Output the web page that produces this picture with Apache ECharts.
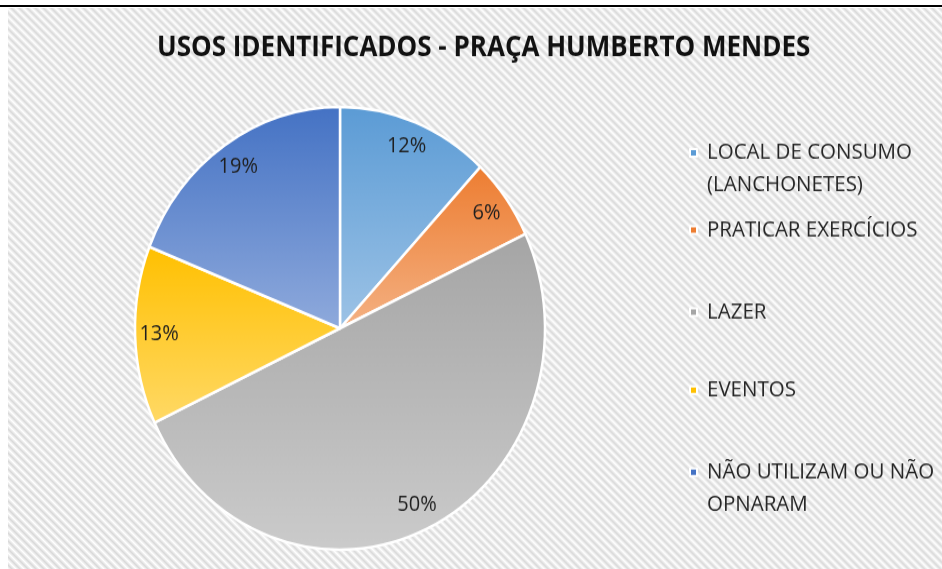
<!DOCTYPE html>
<html>
<head>
<meta charset="utf-8">
<script src="https://cdn.jsdelivr.net/npm/echarts@6/dist/echarts.min.js"></script>
<style>
  body { margin: 0; background: #fff; }
  #wrap { position: relative; width: 942px; height: 569px; overflow: hidden; background: #fff; }
  #rule { position: absolute; left: 0; top: 5px; width: 942px; height: 2px; background: #000; }
  #hatch { position: absolute; left: 8px; top: 8px; right: 0; bottom: 0;
    background: repeating-linear-gradient(45deg, #fff 0, #d9d9d9 2.8px, #fff 5.66px); }
  /* the reference is stretched a bit vertically */
  #main { position: absolute; left: 0; top: 0; width: 942px; height: 527px;
    transform: scaleY(1.08); transform-origin: 0 0; }
</style>
</head>
<body>
<div id="wrap">
  <div id="rule"></div>
  <div id="hatch"></div>
  <div id="main"></div>
</div>
<script>
// dados
var categories = [
  "LOCAL DE CONSUMO\n(LANCHONETES)",
  "PRATICAR EXERCÍCIOS",
  "LAZER",
  "EVENTOS",
  "NÃO UTILIZAM OU NÃO\nOPNARAM"
];
var values = [12, 6, 50, 13, 19];
var topColors = ["#5b9bd5", "#ed7d31", "#a5a5a5", "#ffc000", "#4472c4"];
var bottomColors = ["#9dc3e6", "#f4b183", "#cbcbcb", "#ffd966", "#8faadc"];

var fontFamily = "'Open Sans', 'Noto Sans', sans-serif";
var legendTops = [96.8, 198.2, 274.1, 346.3, 392.6];

var myChart = echarts.init(document.getElementById("main"));

var pieData = categories.map(function(name, i) {
  return {
    name: name,
    value: values[i],
    itemStyle: {
      color: new echarts.graphic.LinearGradient(0, 0, 0, 1, [
        { offset: 0, color: topColors[i] },
        { offset: 1, color: bottomColors[i] }
      ])
    }
  };
});

var option = {
  animation: false,
  title: {
    text: "USOS IDENTIFICADOS - PRAÇA HUMBERTO MENDES",
    left: 157,
    top: 31.5,
    padding: 0,
    textStyle: {
      fontFamily: fontFamily,
      fontSize: 26,
      fontWeight: "bold",
      color: "#111"
    }
  },
  legend: categories.map(function(name, i) {
    return {
      orient: "vertical",
      left: 689,
      top: legendTops[i],
      padding: 0,
      icon: "rect",
      itemWidth: 7,
      itemHeight: 7,
      selectedMode: false,
      data: [{ name: name, itemStyle: { color: topColors[i] } }],
      // linha em branco para o marcador ficar na primeira linha
      formatter: function(n) {
        return n.indexOf("\n") >= 0 ? "\n" + n : n;
      },
      textStyle: {
        fontFamily: fontFamily,
        fontSize: 20.5,
        lineHeight: 29.8,
        color: "#262626",
        padding: [0, 0, 0, 5]
      }
    };
  }),
  series: [
    {
      type: "pie",
      center: [340, 304],
      radius: [0, 205],
      startAngle: 90,
      clockwise: true,
      silent: true,
      label: { show: false },
      labelLine: { show: false },
      itemStyle: { borderColor: "#fff", borderWidth: 2.5 },
      data: pieData
    },
    {
      // so para os rotulos de percentagem
      type: "pie",
      center: [340, 304],
      radius: [151, 205],
      startAngle: 90,
      clockwise: true,
      silent: true,
      itemStyle: { color: "rgba(0,0,0,0)" },
      label: {
        show: true,
        position: "inside",
        fontFamily: fontFamily,
        fontSize: 20,
        color: "#1f1f1f",
        formatter: function(p) {
          return Math.round(p.percent) + "%";
        }
      },
      labelLine: { show: false },
      data: categories.map(function(name, i) {
        return { name: name, value: values[i] };
      })
    }
  ]
};

myChart.setOption(option);
</script>
</body>
</html>
